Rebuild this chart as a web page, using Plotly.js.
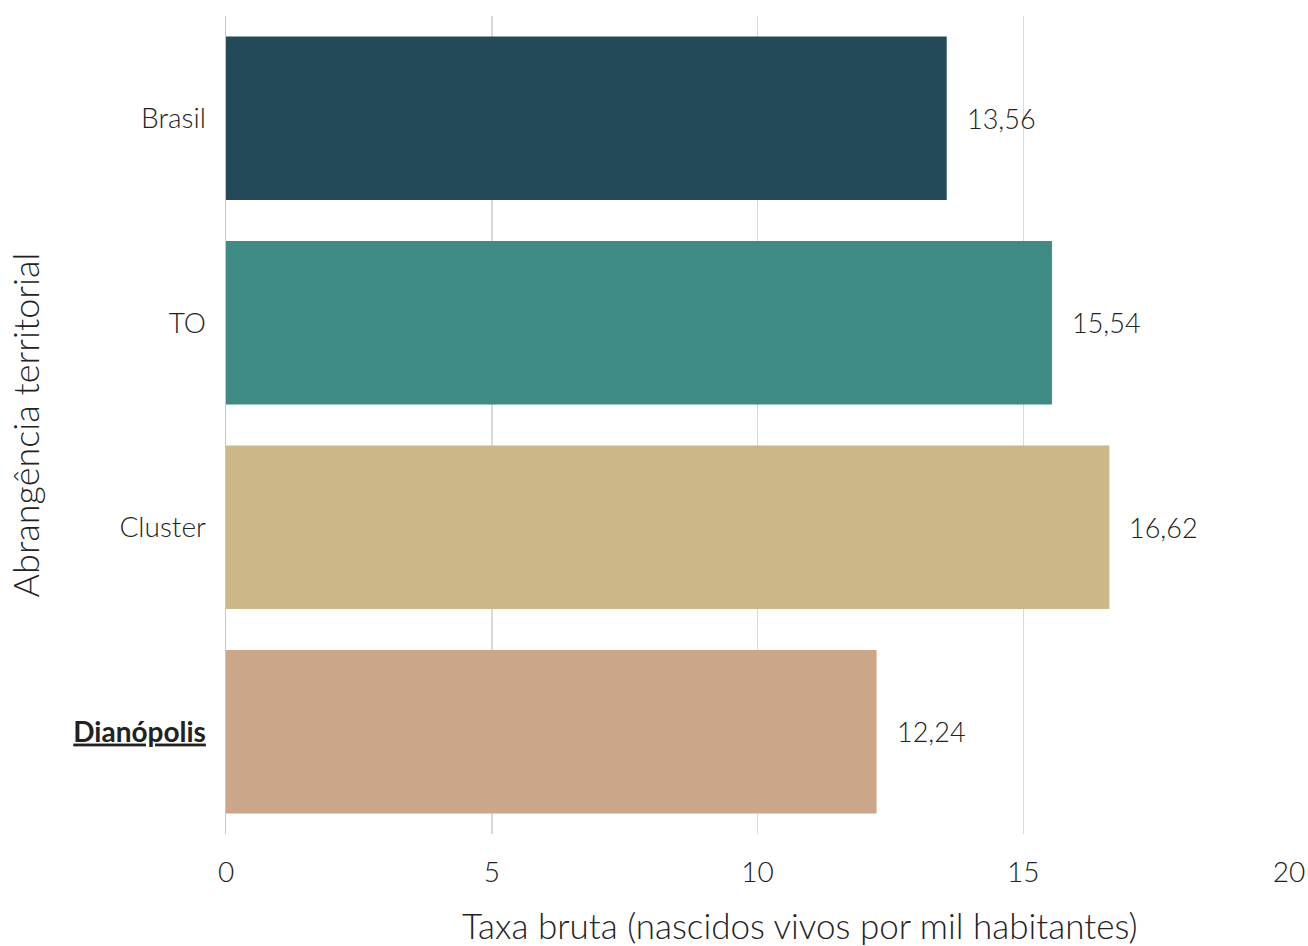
<!DOCTYPE html>
<html>
<head>
<meta charset="utf-8">
<script src="https://cdn.plot.ly/plotly-3.0.1.min.js"></script>
<style>html,body{margin:0;padding:0;background:#fff;}#chart{width:1308px;height:946px;}</style>
</head>
<body>
<div id="chart"></div>
<script>
const categories = ["Brasil", "TO", "Cluster", "Dianópolis"];
const tickLabels = ["Brasil", "TO", "Cluster", "<b><u>Dianópolis</u></b>"];
const values = [13.56, 15.54, 16.62, 12.24];
const valueLabels = ["13,56", "15,54", "16,62", "12,24"];
const barColors = ["#244A59", "#3D8B82", "#CCB886", "#CCA689"];
const xTicks = [0, 5, 10, 15, 20];
const xTitle = "Taxa bruta (nascidos vivos por mil habitantes)";
const yTitle = "Abrangência territorial";

const fontFamily = "Lato, 'Open Sans', sans-serif";
const trace = {
  type: "bar",
  orientation: "h",
  x: values,
  y: categories,
  width: 0.8,
  marker: {color: barColors, line: {width: 0}},
  hoverinfo: "none"
};

const annotations = values.map((v, i) => ({
  x: v, y: categories[i], xref: "x", yref: "y",
  text: valueLabels[i], showarrow: false,
  xanchor: "left", yanchor: "middle", xshift: 18,
  font: {family: fontFamily, size: 27, color: "#222", weight: 300}
}));
annotations.push({
  xref: "paper", yref: "paper", x: 0.54, y: 0, yshift: -91,
  xanchor: "center", yanchor: "middle", showarrow: false,
  text: xTitle,
  font: {family: fontFamily, size: 35, color: "#222", weight: 300}
});

const layout = {
  width: 1308, height: 946,
  margin: {l: 226, r: 19, t: 16, b: 112},
  paper_bgcolor: "#fff", plot_bgcolor: "#fff",
  showlegend: false,
  bargap: 0.2,
  font: {family: fontFamily, color: "#222", weight: 300},
  xaxis: {
    range: [0, 20],
    tickvals: xTicks,
    ticktext: xTicks.map(String),
    showgrid: true, gridcolor: "#D9D9D9", gridwidth: 1.5,
    zeroline: false, showline: false,
    ticks: "outside", ticklen: 13, tickcolor: "rgba(0,0,0,0)",
    tickfont: {family: fontFamily, size: 28, color: "#222", weight: 300},
    fixedrange: true
  },
  yaxis: {
    categoryorder: "array", categoryarray: categories,
    autorange: "reversed",
    tickvals: categories, ticktext: tickLabels,
    showgrid: false, zeroline: false,
    showline: true, linecolor: "#C8C8C8", linewidth: 1.5,
    ticks: "outside", ticklen: 13, tickcolor: "rgba(0,0,0,0)",
    tickfont: {family: fontFamily, size: 28, color: "#222", weight: 300},
    title: {text: yTitle, standoff: 22,
            font: {family: fontFamily, size: 36, color: "#222", weight: 300}},
    fixedrange: true
  },
  annotations: annotations
};

Plotly.newPlot("chart", [trace], layout, {displayModeBar: false, staticPlot: true});
</script>
</body>
</html>
